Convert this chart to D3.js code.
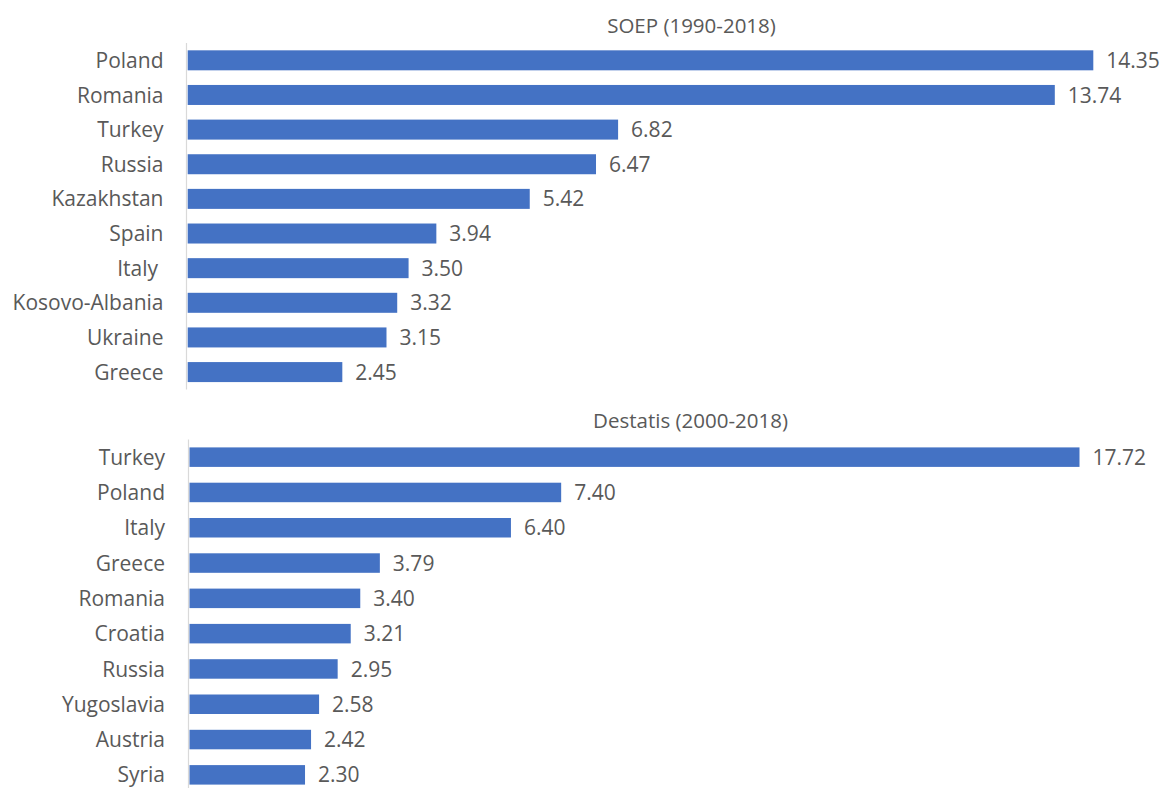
<!DOCTYPE html>
<html>
<head>
<meta charset="utf-8">
<script src="https://cdn.jsdelivr.net/npm/d3@7"></script>
<style>
  html, body { margin: 0; padding: 0; background: #fff; }
  svg { display: block; }
  text { font-family: "Open Sans", "Noto Sans", sans-serif; fill: #595959; }
</style>
</head>
<body>
<svg id="chart" width="1162" height="788"></svg>
<script>
// SOEP panel (1990-2018)
const soepTitle = "SOEP (1990-2018)";
const soepCountries = ["Poland", "Romania", "Turkey", "Russia", "Kazakhstan", "Spain", "Italy ", "Kosovo-Albania", "Ukraine", "Greece"];
const soepValues = [14.35, 13.74, 6.82, 6.47, 5.42, 3.94, 3.50, 3.32, 3.15, 2.45];

// Destatis panel (2000-2018)
const destatisTitle = "Destatis (2000-2018)";
const destatisCountries = ["Turkey", "Poland", "Italy", "Greece", "Romania", "Croatia", "Russia", "Yugoslavia", "Austria", "Syria"];
const destatisValues = [17.72, 7.40, 6.40, 3.79, 3.40, 3.21, 2.95, 2.58, 2.42, 2.30];

const svg = d3.select("#chart");
const barColor = "#4472C4";
const axisColor = "#D9D9D9";

function drawPanel(cfg) {
  const data = cfg.countries.map((c, i) => ({ country: c, value: cfg.values[i] }));
  const g = svg.append("g");

  const x = d3.scaleLinear()
    .domain([0, d3.max(cfg.values)])
    .range([cfg.x0, cfg.x1]);

  const y = d3.scaleBand()
    .domain(cfg.countries)
    .range([cfg.y0, cfg.y1])
    .paddingInner(cfg.pad)
    .paddingOuter(cfg.pad / 2);

  // panel title
  g.append("text")
    .attr("x", cfg.titleX)
    .attr("y", cfg.titleY)
    .attr("text-anchor", "middle")
    .style("font-size", "20.5px")
    .text(cfg.title);

  // vertical category axis line
  const ax = Math.round(cfg.x0) - 1.5;
  g.append("line")
    .attr("x1", ax).attr("x2", ax)
    .attr("y1", cfg.y0).attr("y2", cfg.y1)
    .attr("stroke", axisColor)
    .attr("stroke-width", 1.2);

  // bars
  g.selectAll("rect.bar")
    .data(data)
    .join("rect")
    .attr("class", "bar")
    .attr("x", x(0))
    .attr("y", d => y(d.country))
    .attr("width", d => x(d.value) - x(0))
    .attr("height", y.bandwidth())
    .attr("fill", barColor);

  // category labels
  g.selectAll("text.cat")
    .data(data)
    .join("text")
    .attr("class", "cat")
    .attr("x", cfg.labelX)
    .attr("y", d => y(d.country) + y.bandwidth() / 2)
    .attr("dy", "0.36em")
    .attr("text-anchor", "end")
    .style("font-size", "21px")
    .style("white-space", "pre")
    .text(d => d.country);

  // value labels
  g.selectAll("text.val")
    .data(data)
    .join("text")
    .attr("class", "val")
    .attr("x", d => x(d.value) + 13)
    .attr("y", d => y(d.country) + y.bandwidth() / 2)
    .attr("dy", "0.36em")
    .style("font-size", "21px")
    .text(d => d.value.toFixed(2));
}

drawPanel({
  title: soepTitle, countries: soepCountries, values: soepValues,
  x0: 187.7, x1: 1093.3, y0: 43, y1: 389.4, pad: 0.4226,
  titleX: 691.5, titleY: 33, labelX: 163.5
});

drawPanel({
  title: destatisTitle, countries: destatisCountries, values: destatisValues,
  x0: 189.5, x1: 1079.5, y0: 439.5, y1: 792.5, pad: 0.4476,
  titleX: 690.5, titleY: 428, labelX: 165
});
</script>
</body>
</html>
